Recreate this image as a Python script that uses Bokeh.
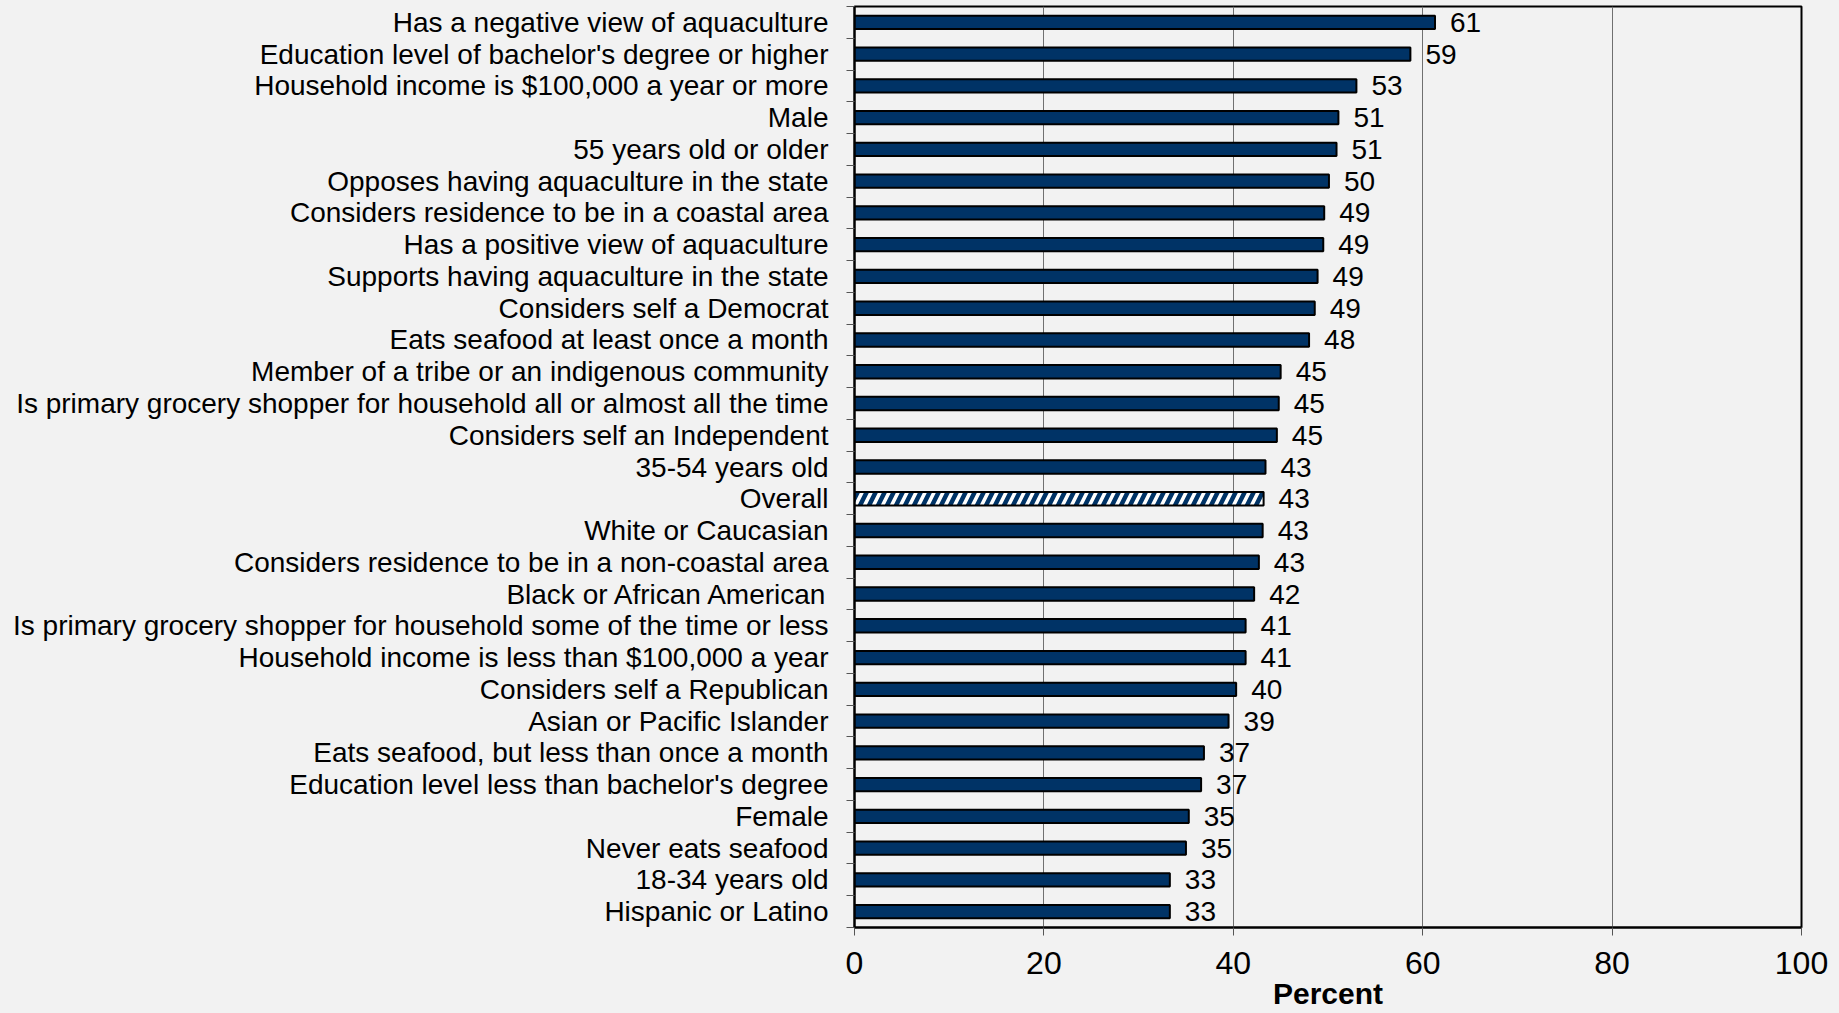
from bokeh.plotting import figure
from bokeh.models import Range1d, FixedTicker, ColumnDataSource
from bokeh.core.properties import value
from bokeh.embed import file_html
from bokeh.resources import INLINE

categories = [
    "Has a negative view of aquaculture",
    "Education level of bachelor's degree or higher",
    "Household income is $100,000 a year or more",
    "Male",
    "55 years old or older",
    "Opposes having aquaculture in the state",
    "Considers residence to be in a coastal area",
    "Has a positive view of aquaculture",
    "Supports having aquaculture in the state",
    "Considers self a Democrat",
    "Eats seafood at least once a month",
    "Member of a tribe or an indigenous community",
    "Is primary grocery shopper for household all or almost all the time",
    "Considers self an Independent",
    "35-54 years old",
    "Overall",
    "White or Caucasian",
    "Considers residence to be in a non-coastal area",
    "Black or African American",
    "Is primary grocery shopper for household some of the time or less",
    "Household income is less than $100,000 a year",
    "Considers self a Republican",
    "Asian or Pacific Islander",
    "Eats seafood, but less than once a month",
    "Education level less than bachelor's degree",
    "Female",
    "Never eats seafood",
    "18-34 years old",
    "Hispanic or Latino",
]
values = [61.3, 58.7, 53.0, 51.1, 50.9, 50.1, 49.6, 49.5, 48.9, 48.6, 48.0,
          45.0, 44.8, 44.6, 43.4, 43.2, 43.1, 42.7, 42.2, 41.3, 41.3, 40.3,
          39.5, 36.9, 36.6, 35.3, 35.0, 33.3, 33.3]
value_labels = ["61", "59", "53", "51", "51", "50", "49", "49", "49", "49", "48",
                "45", "45", "45", "43", "43", "43", "43", "42", "41", "41", "40",
                "39", "37", "37", "35", "35", "33", "33"]
x_ticks = [0, 20, 40, 60, 80, 100]
x_label = "Percent"
highlight = "Overall"

n = len(categories)
ypos = [n - 1 - i for i in range(n)]
is_hl = [c == highlight for c in categories]

main = ColumnDataSource(dict(
    y=[y for y, h in zip(ypos, is_hl) if not h],
    v=[v for v, h in zip(values, is_hl) if not h],
))
hl = ColumnDataSource(dict(
    y=[y for y, h in zip(ypos, is_hl) if h],
    v=[v for v, h in zip(values, is_hl) if h],
))
lab = ColumnDataSource(dict(y=ypos, v=values, t=value_labels))

FONT = "Liberation Sans"
BG = "#f2f2f2"
NAVY = "#003366"

p = figure(width=1839, height=1012, output_backend="svg", toolbar_location=None,
           x_range=Range1d(0, 100), y_range=Range1d(-0.5, n - 0.5),
           min_border_left=854, min_border_right=38, min_border_top=6,
           min_border_bottom=85)
p.frame_width = 947
p.frame_height = 921
p.background_fill_color = BG
p.border_fill_color = BG
p.outline_line_color = "black"
p.outline_line_width = 2

p.hbar(y="y", right="v", left=0, height=0.42, source=main,
       fill_color=NAVY, line_color="black", line_width=2)
p.hbar(y="y", right="v", left=0, height=0.42, source=hl,
       fill_color="white", hatch_pattern="/", hatch_color=NAVY,
       hatch_weight=4.5, hatch_scale=18, line_color="black", line_width=2)

p.text(x="v", y="y", text="t", source=lab, x_offset=15,
       text_baseline="middle", text_align="left",
       text_font=value(FONT), text_font_size="28px", text_color="black")

# x axis
p.xaxis.ticker = FixedTicker(ticks=x_ticks)
p.xaxis.axis_label = x_label
p.xaxis.axis_label_text_font = FONT
p.xaxis.axis_label_text_font_style = "bold"
p.xaxis.axis_label_text_font_size = "30px"
p.xaxis.axis_label_text_color = "black"
p.xaxis.axis_label_standoff = 0
p.xaxis.major_label_text_font = FONT
p.xaxis.major_label_text_font_size = "32px"
p.xaxis.major_label_text_color = "black"
p.xaxis.major_label_standoff = 16
p.xaxis.axis_line_color = "black"
p.xaxis.axis_line_width = 2
p.xaxis.major_tick_out = 8
p.xaxis.major_tick_in = 0
p.xaxis.major_tick_line_color = "#555555"
p.xaxis.minor_tick_line_color = None

# y axis
p.yaxis.ticker = FixedTicker(ticks=ypos, minor_ticks=[k - 0.5 for k in range(n + 1)])
p.yaxis.major_label_overrides = {y: c for y, c in zip(ypos, categories)}
p.yaxis.major_label_text_font = FONT
p.yaxis.major_label_text_font_size = "28px"
p.yaxis.major_label_text_color = "black"
p.yaxis.major_label_standoff = 18
p.yaxis.axis_line_color = "black"
p.yaxis.axis_line_width = 2
p.yaxis.major_tick_out = 0
p.yaxis.major_tick_in = 0
p.yaxis.major_tick_line_color = None
p.yaxis.minor_tick_out = 8
p.yaxis.minor_tick_in = 0
p.yaxis.minor_tick_line_color = "#555555"
p.yaxis.minor_tick_line_width = 1

p.xgrid.grid_line_color = "#707070"
p.xgrid.grid_line_width = 1
p.ygrid.grid_line_color = None

html = file_html(p, INLINE)
html = html.replace("<head>", "<head><style>html,body{background:#f2f2f2;}</style>", 1)
open("out.html", "w").write(html)
